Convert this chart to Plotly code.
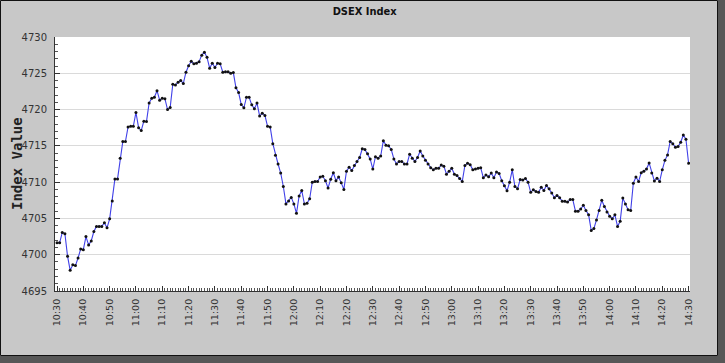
import pandas as pd
import plotly.graph_objects as go

# ---- data ----
start_time = "2024-01-01 10:30"
index_values = [
    4701.65, 4701.65, 4703.07, 4702.9, 4699.8, 4697.85, 4698.6, 4698.5, 4699.55, 4700.8,
    4700.7, 4702.5, 4701.35, 4701.9, 4703.2, 4703.9, 4703.9, 4703.9, 4704.4, 4703.7,
    4704.95, 4707.4, 4710.45, 4710.45, 4713.3, 4715.6, 4715.6, 4717.6, 4717.7, 4717.7,
    4719.6, 4717.5, 4717.1, 4718.4, 4718.35, 4720.9, 4721.55, 4721.7, 4722.6, 4721.3,
    4721.55, 4721.5, 4720.0, 4720.3, 4723.5, 4723.4, 4723.75, 4724.0, 4723.6, 4725.15,
    4726.05, 4726.65, 4726.3, 4726.4, 4726.6, 4727.5, 4727.9, 4727.2, 4725.7, 4726.4,
    4725.8, 4726.4, 4726.3, 4725.15, 4725.2, 4725.2, 4725.0, 4725.1, 4723.0, 4722.35,
    4720.7, 4720.25, 4721.7, 4721.7, 4720.65, 4720.1, 4720.9, 4719.1, 4719.5, 4719.2,
    4717.7, 4717.6, 4715.3, 4713.7, 4712.5, 4711.25, 4709.4, 4707.0, 4707.4, 4707.9,
    4707.0, 4705.7, 4708.1, 4708.85, 4707.0, 4707.1, 4707.7, 4710.0, 4710.1, 4710.1,
    4710.7, 4710.8, 4710.2, 4709.2, 4710.4, 4711.3, 4710.2, 4710.7, 4709.9, 4709.0,
    4711.5, 4712.05, 4711.6, 4712.3, 4712.85, 4713.4, 4714.6, 4714.5, 4713.9, 4713.2,
    4711.8, 4713.5, 4713.3, 4713.6, 4715.7, 4715.1, 4715.0, 4714.5, 4713.2, 4712.5,
    4712.85, 4712.85, 4712.5, 4712.5, 4713.85, 4713.3, 4712.85, 4713.4, 4714.3, 4713.6,
    4713.0, 4712.5, 4712.0, 4711.7, 4711.9, 4711.9, 4712.35, 4712.2, 4711.1, 4711.5,
    4711.9, 4711.1, 4710.9, 4710.5, 4710.1, 4712.3, 4712.6, 4712.4, 4711.7, 4711.8,
    4711.9, 4712.0, 4710.6, 4711.0, 4710.75, 4711.25, 4710.6, 4711.4, 4711.2, 4710.2,
    4709.5, 4708.8, 4710.0, 4711.7, 4709.4, 4709.1, 4710.35, 4710.3, 4710.5, 4710.0,
    4708.6, 4708.95, 4708.7, 4708.6, 4709.3, 4708.85, 4709.55, 4709.1, 4708.5, 4707.85,
    4708.15, 4707.85, 4707.35, 4707.35, 4707.25, 4707.6, 4707.6, 4706.0, 4706.0, 4706.3,
    4706.8, 4706.1, 4705.5, 4703.35, 4703.6, 4704.8, 4706.1, 4707.5, 4706.65, 4705.9,
    4705.3, 4704.95, 4705.5, 4703.9, 4704.6, 4707.8, 4707.0, 4706.2, 4706.1, 4709.85,
    4710.7, 4710.1, 4711.3, 4711.5, 4711.8, 4712.65, 4711.25, 4710.15, 4710.55, 4710.1,
    4711.7, 4713.0, 4713.75, 4715.6, 4715.3, 4714.8, 4714.9, 4715.5, 4716.5, 4715.9,
    4712.6,
]
times = pd.date_range(start_time, periods=len(index_values), freq="min")
tick_labels_every = 600000  # 10 minutes in ms
title_text = "DSEX Index"
y_title = "Index Value"

# ---- layout geometry ----
W, H = 725, 363
L, R, T, B = 55, 35, 37, 72
pw, ph = W - L - R, H - T - B


def px_x(p):
    return (p - L) / pw


def px_y(p):
    return (H - B - p) / ph


fig = go.Figure()
fig.add_trace(go.Scatter(
    x=times, y=index_values, mode="lines+markers",
    line=dict(color="#4040e8", width=1.1),
    marker=dict(color="#111111", size=3, symbol="circle", line=dict(width=0)),
    hoverinfo="x+y", showlegend=False,
))

shadow = "#575757"
# dark drop shadow at right and bottom
fig.add_shape(type="rect", xref="paper", yref="paper", layer="above",
              x0=px_x(718), x1=px_x(W + 2), y0=px_y(H + 2), y1=px_y(-2),
              fillcolor=shadow, line=dict(width=0))
fig.add_shape(type="rect", xref="paper", yref="paper", layer="above",
              x0=px_x(-2), x1=px_x(W + 2), y0=px_y(H + 2), y1=px_y(356),
              fillcolor=shadow, line=dict(width=0))
# black frame of the grey panel
fig.add_shape(type="rect", xref="paper", yref="paper", layer="above",
              x0=px_x(0.5), x1=px_x(717.5), y0=px_y(355.5), y1=px_y(0.5),
              fillcolor="rgba(0,0,0,0)", line=dict(color="#111111", width=1))

# y-axis title placed precisely
fig.add_annotation(text="<b>" + y_title + "</b>", xref="paper", yref="paper",
                   x=px_x(17), y=px_y(164), xanchor="center", yanchor="middle",
                   textangle=-90, showarrow=False,
                   font=dict(family="DejaVu Sans Mono", size=14, color="#222222"))

fig.update_layout(
    width=W, height=H,
    margin=dict(l=L, r=R, t=T, b=B, pad=0, autoexpand=False),
    paper_bgcolor="#c8c8c8",
    plot_bgcolor="#ffffff",
    title=dict(text="<b>" + title_text + "</b>", x=0.503, xref="container", xanchor="center",
               y=1 - 11 / H, yref="container", yanchor="middle",
               font=dict(family="DejaVu Sans Condensed, DejaVu Sans", size=11, color="#111111")),
    font=dict(family="DejaVu Sans", size=10, color="#333333"),
)

fig.update_xaxes(
    type="date", automargin=False,
    range=["2024-01-01 10:29:14", "2024-01-01 14:30:32"],
    tick0="2024-01-01 10:30", dtick=tick_labels_every, tickformat="%H:%M",
    tickangle=-90, tickfont=dict(family="DejaVu Sans", size=9.5, color="#333333"),
    ticks="inside", ticklen=5, tickcolor="#333333",
    minor=dict(dtick=60000, ticks="inside", ticklen=3, tickcolor="#555555", showgrid=False),
    showgrid=False, showline=True, linecolor="#333333", linewidth=1,
    zeroline=False, ticklabelstandoff=3,
)
fig.update_yaxes(
    automargin=False,
    range=[4695, 4730], dtick=5, tick0=4695,
    tickfont=dict(family="DejaVu Sans", size=10, color="#333333"),
    ticks="inside", ticklen=5, tickcolor="#333333",
    minor=dict(dtick=1, ticks="inside", ticklen=3, tickcolor="#555555", showgrid=False),
    showgrid=True, gridcolor="#dadada", gridwidth=1,
    showline=True, linecolor="#333333", linewidth=1, zeroline=False,
    ticklabelstandoff=5,
)

fig.write_html("out.html", config={"displayModeBar": False},
               post_script="document.body.style.margin='0';document.body.style.padding='0';"
                           "document.body.style.overflow='hidden';")
